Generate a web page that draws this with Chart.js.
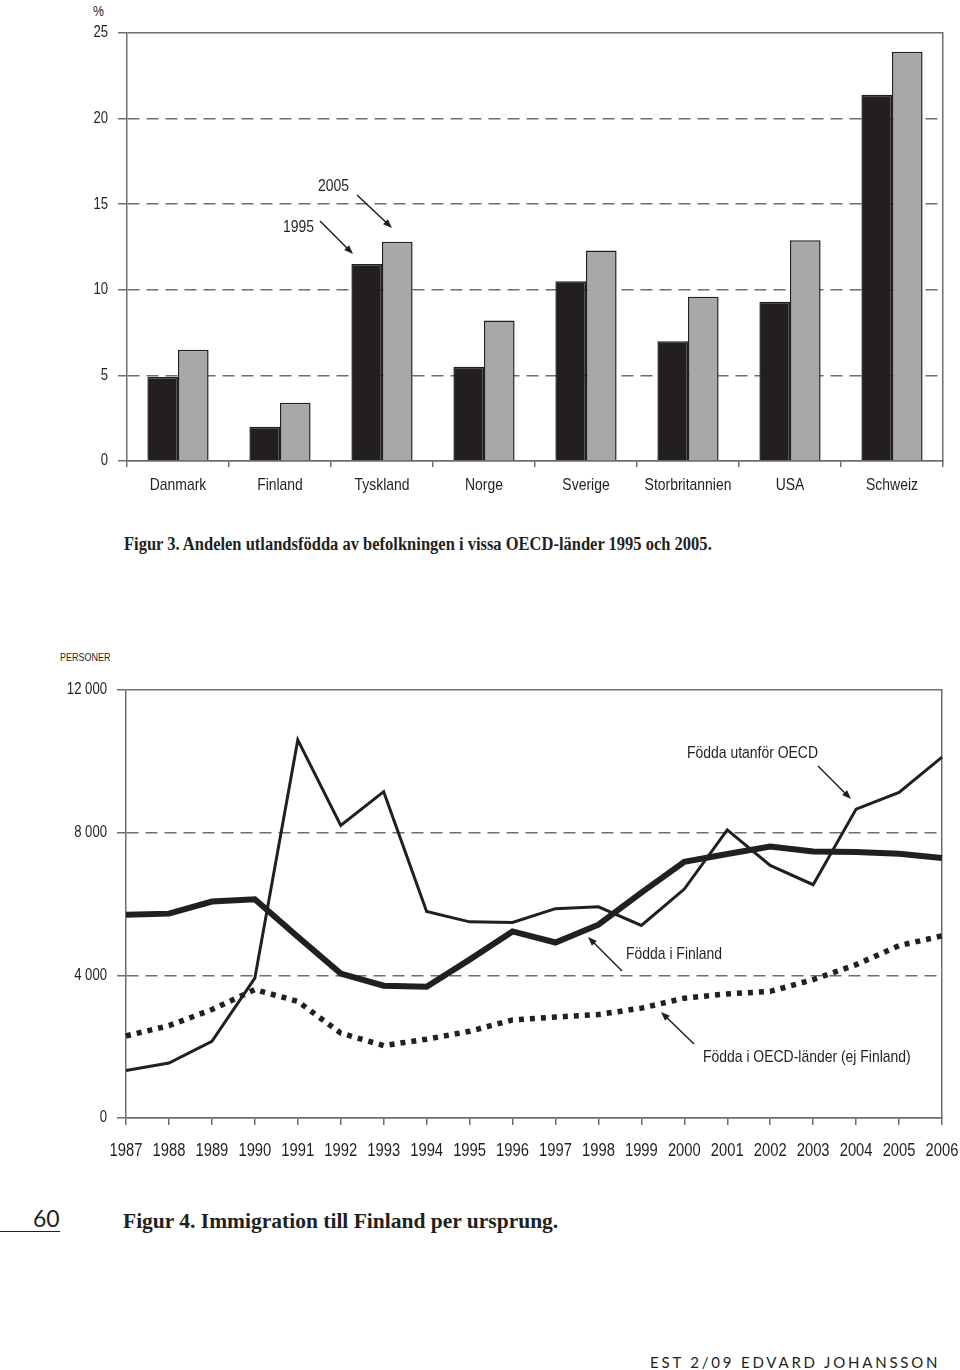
<!DOCTYPE html>
<html>
<head>
<meta charset="utf-8">
<script src="https://cdn.jsdelivr.net/npm/chart.js@4.4.0/dist/chart.umd.min.js"></script>
<style>
  html, body { margin: 0; padding: 0; background: #fff; }
  body { width: 960px; height: 1370px; position: relative; overflow: hidden; color: #231f20; }
  .abs { position: absolute; white-space: nowrap; line-height: 1; }
  .narrow { font-family: 'Liberation Sans', Arial, sans-serif; transform: scaleX(0.82); transform-origin: 0 0; }
  .caption { font-family: 'Liberation Serif', 'DejaVu Serif', serif; font-weight: bold; transform-origin: 0 0; }
  #c1 { position: absolute; left: 0; top: 0; }
  #c2 { position: absolute; left: 0; top: 600px; }
</style>
</head>
<body>
<div class="abs narrow" style="left:93px;top:3px;font-size:15px;">%</div>
<canvas id="c1" width="960" height="520"></canvas>
<div class="abs caption" style="left:124px;top:535px;font-size:18px;transform:scaleX(0.917);">Figur 3. Andelen utlandsfödda av befolkningen i vissa OECD-länder 1995 och 2005.</div>

<div class="abs narrow" style="left:60px;top:652px;font-size:11px;">PERSONER</div>
<canvas id="c2" width="960" height="580"></canvas>

<div class="abs" style="left:33px;top:1207px;font-family:Lato,'Noto Sans',sans-serif;font-size:23px;">60</div>
<div class="abs" style="left:0;top:1231px;width:60px;height:1px;background:#231f20;"></div>
<div class="abs caption" style="left:123px;top:1211px;font-size:21.5px;">Figur 4. Immigration till Finland per ursprung.</div>
<div class="abs" style="left:650px;top:1355px;font-family:Lato,'Noto Sans',sans-serif;font-size:15px;letter-spacing:2.8px;">EST 2/09 EDVARD JOHANSSON</div>

<script>
// ---- Figur 3 data ----
const countries = ['Danmark', 'Finland', 'Tyskland', 'Norge', 'Sverige', 'Storbritannien', 'USA', 'Schweiz'];
const share1995 = [4.9, 2.0, 11.5, 5.5, 10.5, 7.0, 9.3, 21.4];
const share2005 = [6.5, 3.4, 12.8, 8.2, 12.3, 9.6, 12.9, 23.9];
const pctTicks = [0, 5, 10, 15, 20, 25];

// ---- Figur 4 data ----
const years = ['1987', '1988', '1989', '1990', '1991', '1992', '1993', '1994', '1995', '1996',
               '1997', '1998', '1999', '2000', '2001', '2002', '2003', '2004', '2005', '2006'];
const utanforOECD = [1330, 1540, 2150, 3920, 10600, 8200, 9150, 5790, 5500, 5480,
                     5870, 5920, 5400, 6420, 8080, 7080, 6540, 8660, 9130, 10120];
const iFinland = [5700, 5730, 6070, 6130, 5080, 4050, 3710, 3680, 4440, 5230,
                  4920, 5420, 6320, 7180, 7400, 7610, 7470, 7460, 7410, 7290];
const iOECD = [2300, 2590, 3040, 3600, 3270, 2380, 2030, 2210, 2430, 2750,
               2830, 2900, 3080, 3360, 3480, 3550, 3880, 4300, 4830, 5110];
const personTicks = [0, 4000, 8000, 12000];

const INK = '#231f20';
const GRID = '#6d6e70';
const FONT = "'Liberation Sans', Arial, sans-serif";
const NARROW = 0.82;

// no condensed face installed: squeeze canvas text horizontally instead
const origFill = CanvasRenderingContext2D.prototype.fillText;
CanvasRenderingContext2D.prototype.fillText = function (t, x, y) {
  this.save();
  this.translate(x, y);
  this.scale(NARROW, 1);
  origFill.call(this, t, 0, 0);
  this.restore();
};
const origMeasure = CanvasRenderingContext2D.prototype.measureText;
CanvasRenderingContext2D.prototype.measureText = function (t) {
  const m = origMeasure.call(this, t);
  return {
    width: m.width * NARROW,
    actualBoundingBoxAscent: m.actualBoundingBoxAscent,
    actualBoundingBoxDescent: m.actualBoundingBoxDescent,
    actualBoundingBoxLeft: m.actualBoundingBoxLeft * NARROW,
    actualBoundingBoxRight: m.actualBoundingBoxRight * NARROW
  };
};

Chart.defaults.font.family = FONT;
Chart.defaults.color = INK;
Chart.defaults.animation = false;

function arrow(ctx, x1, y1, x2, y2) {
  const a = Math.atan2(y2 - y1, x2 - x1);
  const len = 9, w = 3.5;
  ctx.save();
  ctx.strokeStyle = INK;
  ctx.fillStyle = INK;
  ctx.lineWidth = 1.5;
  ctx.beginPath();
  ctx.moveTo(x1, y1);
  ctx.lineTo(x2 - Math.cos(a) * len * 0.8, y2 - Math.sin(a) * len * 0.8);
  ctx.stroke();
  ctx.beginPath();
  ctx.moveTo(x2, y2);
  ctx.lineTo(x2 - Math.cos(a) * len - Math.sin(a) * w, y2 - Math.sin(a) * len + Math.cos(a) * w);
  ctx.lineTo(x2 - Math.cos(a) * len + Math.sin(a) * w, y2 - Math.sin(a) * len - Math.cos(a) * w);
  ctx.closePath();
  ctx.fill();
  ctx.restore();
}

function labelText(ctx, txt, x, y) {
  ctx.save();
  ctx.font = '17px ' + FONT;
  ctx.fillStyle = INK;
  ctx.textBaseline = 'middle';
  ctx.textAlign = 'left';
  ctx.fillText(txt, x, y);
  ctx.restore();
}

// dashed inner gridlines, solid top line
const dashFor = (top) => (c) => {
  if (!c.tick) return [];
  return (c.tick.value === 0 || c.tick.value === top) ? [] : [12, 7];
};

// right-hand frame line
const rightFrame = {
  position: 'right',
  display: true,
  afterFit: s => { s.width = 0; },
  ticks: { display: false },
  grid: { display: false, drawOnChartArea: false, drawTicks: false },
  border: { display: true, color: GRID, width: 1.5 }
};

new Chart(document.getElementById('c1'), {
  type: 'bar',
  data: {
    labels: countries,
    datasets: [
      { label: '1995', data: share1995, backgroundColor: INK, borderColor: INK, borderWidth: 1.5 },
      { label: '2005', data: share2005, backgroundColor: '#a7a8aa', borderColor: INK, borderWidth: 1.5 }
    ]
  },
  options: {
    responsive: false,
    layout: { padding: { top: 33, right: 17, left: 0, bottom: 0 } },
    categoryPercentage: 0.6,
    barPercentage: 1.0,
    plugins: {
      legend: { display: false },
      tooltip: { enabled: false }
    },
    scales: {
      x: {
        afterFit: s => { s.height = 59; s.paddingLeft = 0; s.paddingRight = 0; },
        grid: { display: true, offset: true, drawOnChartArea: false, drawTicks: true, tickLength: 6, color: GRID, lineWidth: 1.5 },
        border: { display: true, color: GRID, width: 1.5 },
        ticks: { font: { size: 17 }, padding: 8, maxRotation: 0, autoSkip: false }
      },
      y: {
        min: 0, max: 25,
        afterFit: s => { s.width = 127; },
        afterBuildTicks: s => { s.ticks = pctTicks.map(v => ({ value: v })); },
        grid: { color: GRID, lineWidth: 1.5, tickLength: 9 },
        border: { display: true, color: GRID, width: 1.5, dash: dashFor(25) },
        ticks: { font: { size: 16 }, padding: 10 }
      },
      y2: rightFrame
    }
  },
  plugins: [{
    id: 'notes1',
    afterDraw(chart) {
      const ctx = chart.ctx;
      labelText(ctx, '2005', 318, 186);
      arrow(ctx, 357, 195, 392, 228);
      labelText(ctx, '1995', 283, 227);
      arrow(ctx, 320, 221, 353, 254);
    }
  }]
});

new Chart(document.getElementById('c2'), {
  type: 'line',
  data: {
    labels: years,
    datasets: [
      { label: 'Födda i OECD-länder (ej Finland)', data: iOECD, borderColor: INK, borderWidth: 5.5,
        borderDash: [5, 6], borderCapStyle: 'butt', pointRadius: 0, tension: 0, fill: false },
      { label: 'Födda i Finland', data: iFinland, borderColor: INK, borderWidth: 6,
        pointRadius: 0, tension: 0, fill: false, borderJoinStyle: 'miter' },
      { label: 'Födda utanför OECD', data: utanforOECD, borderColor: INK, borderWidth: 3,
        pointRadius: 0, tension: 0, fill: false, borderJoinStyle: 'miter' }
    ]
  },
  options: {
    responsive: false,
    layout: { padding: { top: 90, right: 18, left: 0, bottom: 0 } },
    plugins: {
      legend: { display: false },
      tooltip: { enabled: false }
    },
    scales: {
      x: {
        offset: false,
        afterFit: s => { s.height = 62; s.paddingLeft = 0; s.paddingRight = 0; },
        grid: { display: true, drawOnChartArea: false, drawTicks: true, tickLength: 7, color: GRID, lineWidth: 1.5 },
        border: { display: true, color: GRID, width: 1.5 },
        ticks: { font: { size: 18 }, padding: 15, maxRotation: 0, autoSkip: false }
      },
      y: {
        min: 0, max: 12000,
        afterFit: s => { s.width = 126; },
        afterBuildTicks: s => { s.ticks = personTicks.map(v => ({ value: v })); },
        grid: { color: GRID, lineWidth: 1.5, tickLength: 9 },
        border: { display: true, color: GRID, width: 1.5, dash: dashFor(12000) },
        ticks: {
          font: { size: 16 }, padding: 10,
          callback: v => String(v).replace(/\B(?=(\d{3})+(?!\d))/g, ' ')
        }
      },
      y2: rightFrame
    }
  },
  plugins: [{
    id: 'notes2',
    afterDraw(chart) {
      const ctx = chart.ctx;
      labelText(ctx, 'Födda utanför OECD', 687, 153);
      arrow(ctx, 818, 166, 851, 199);
      labelText(ctx, 'Födda i Finland', 626, 354);
      arrow(ctx, 622, 371, 588, 337);
      labelText(ctx, 'Födda i OECD-länder (ej Finland)', 703, 457);
      arrow(ctx, 694, 444, 661, 412);
    }
  }]
});
</script>
</body>
</html>
